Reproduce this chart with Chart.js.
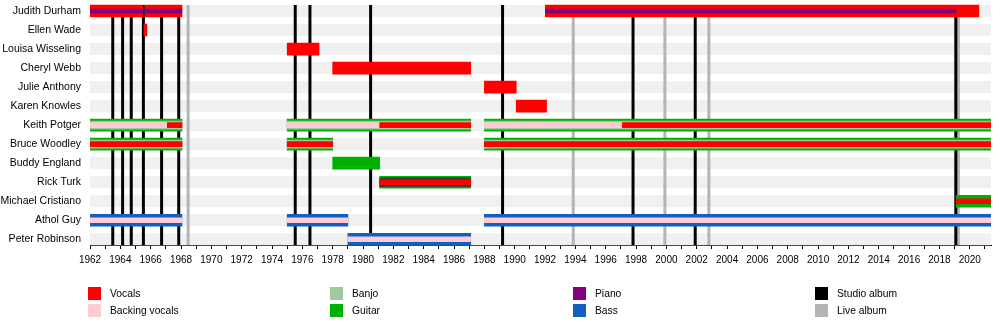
<!DOCTYPE html>
<html>
<head>
<meta charset="utf-8">
<script src="https://cdn.jsdelivr.net/npm/chart.js@4.4.1/dist/chart.umd.min.js"></script>
<style>
  html, body { margin: 0; padding: 0; background: #fff; }
  #wrap { width: 1000px; height: 325px; position: relative; }
</style>
</head>
<body>
<div id="wrap"><canvas id="timeline"></canvas></div>
<script>
const members = [
  'Judith Durham', 'Ellen Wade', 'Louisa Wisseling', 'Cheryl Webb', 'Julie Anthony',
  'Karen Knowles', 'Keith Potger', 'Bruce Woodley', 'Buddy England', 'Rick Turk',
  'Michael Cristiano', 'Athol Guy', 'Peter Robinson'
];
const startYear = 1962;
const endYear = 2021.4;

// [member, from, to]
const vocals = [
  ['Judith Durham', 1962, 1965.47], ['Judith Durham', 1965.63, 1968.06], ['Judith Durham', 1992.02, 2020.6],
  ['Ellen Wade', 1965.55, 1965.75],
  ['Louisa Wisseling', 1975, 1977.1],
  ['Cheryl Webb', 1978, 1987.1],
  ['Julie Anthony', 1988, 1990.1],
  ['Karen Knowles', 1990.1, 1992.1],
  ['Keith Potger', 1967.1, 1968.06], ['Keith Potger', 1981.1, 1987.1], ['Keith Potger', 1997.1, endYear],
  ['Bruce Woodley', 1962, 1968.06], ['Bruce Woodley', 1975, 1978], ['Bruce Woodley', 1988, endYear],
  ['Rick Turk', 1981.1, 1987.1],
  ['Michael Cristiano', 2019.1, endYear]
];
const backingVocals = [
  ['Keith Potger', 1962, 1967.1], ['Keith Potger', 1975, 1981.1], ['Keith Potger', 1988, 1997.1],
  ['Athol Guy', 1962, 1968.06], ['Athol Guy', 1975, 1979], ['Athol Guy', 1988, endYear],
  ['Peter Robinson', 1979, 1987.1]
];
const guitar = [
  ['Keith Potger', 1962, 1968.06], ['Keith Potger', 1975, 1987.1], ['Keith Potger', 1988, endYear],
  ['Bruce Woodley', 1962, 1968.06], ['Bruce Woodley', 1975, 1978], ['Bruce Woodley', 1988, endYear],
  ['Buddy England', 1978, 1981.1],
  ['Rick Turk', 1981.1, 1987.1],
  ['Michael Cristiano', 2019.1, endYear]
];
const banjo = [
  ['Keith Potger', 1962, 1968.06], ['Keith Potger', 1975, 1987.1], ['Keith Potger', 1988, endYear],
  ['Bruce Woodley', 1962, 1968.06], ['Bruce Woodley', 1975, 1978], ['Bruce Woodley', 1988, endYear]
];
const otherInstruments = [
  ['Rick Turk', 1981.1, 1987.1]
];
const piano = [
  ['Judith Durham', 1962, 1965.47], ['Judith Durham', 1965.63, 1968.06], ['Judith Durham', 1992.02, 2019.1]
];
const bass = [
  ['Athol Guy', 1962, 1968.06], ['Athol Guy', 1975, 1979], ['Athol Guy', 1988, endYear],
  ['Peter Robinson', 1979, 1987.1]
];
const studioAlbums = [1963.5, 1964.15, 1964.72, 1965.52, 1966.72, 1967.85, 1975.53, 1976.5, 1980.5, 1989.2, 1997.8, 2001.9, 2019.08];
const liveAlbums = [1968.47, 1993.86, 1999.9, 2002.8, 2019.25];

const colors = {
  vocals: '#ff0000',
  backing: '#ffccd4',
  banjo: '#a0c8a0',
  guitar: '#00b000',
  piano: '#800080',
  bass: '#0f60c0',
  other: '#34402f',
  studio: '#000000',
  live: '#b4b4b4',
  row: '#f0f0f0'
};

const FONT = '"Liberation Sans", Arial, sans-serif';

// members who play guitar or bass get a thin vocal stripe on top of their instrument bar
const players = new Set([...guitar, ...bass].map(s => s[0]));

const toBars = segs => segs.map(([m, a, b]) => ({ x: [a, b], y: members.indexOf(m) }));

function layer(label, segs, color, thickness) {
  return {
    label: label,
    data: toBars(segs),
    backgroundColor: color,
    barThickness: thickness,
    grouped: false,
    borderWidth: 0,
    borderSkipped: false
  };
}

// first dataset is painted on top
const datasets = [
  layer('Piano', piano, colors.piano, 4),
  layer('Vocals', vocals.filter(s => players.has(s[0])), colors.vocals, 5),
  layer('Backing vocals', backingVocals, colors.backing, 5),
  layer('Banjo', banjo, colors.banjo, 8),
  layer('Other', otherInstruments, colors.other, 9),
  layer('Vocals', vocals.filter(s => !players.has(s[0])), colors.vocals, 12),
  layer('Guitar', guitar, colors.guitar, 12),
  layer('Bass', bass, colors.bass, 12)
];

const legendItems = [
  ['Vocals', colors.vocals], ['Backing vocals', colors.backing],
  ['Banjo', colors.banjo], ['Guitar', colors.guitar],
  ['Piano', colors.piano], ['Bass', colors.bass],
  ['Studio album', colors.studio], ['Live album', colors.live]
];

// grey row bands and album lines sit underneath the bars
const backdrop = {
  id: 'backdrop',
  beforeDatasetsDraw(chart) {
    const { ctx, chartArea, scales } = chart;
    const x = scales.x, y = scales.y;
    ctx.save();
    ctx.fillStyle = colors.row;
    members.forEach((m, i) => {
      const py = y.getPixelForValue(i);
      ctx.fillRect(chartArea.left, py - 6, chartArea.right - chartArea.left, 12);
    });
    const top = y.getPixelForValue(0) - 6;
    const drawLines = (years, color) => {
      ctx.strokeStyle = color;
      ctx.lineWidth = 3;
      years.forEach(yr => {
        const px = x.getPixelForValue(yr);
        ctx.beginPath();
        ctx.moveTo(px, top);
        ctx.lineTo(px, chartArea.bottom);
        ctx.stroke();
      });
    };
    drawLines(liveAlbums, colors.live);
    drawLines(studioAlbums, colors.studio);
    ctx.restore();
  },
  afterDraw(chart) {
    const ctx = chart.ctx;
    const cols = [88, 330, 573, 815];
    const rows = [287, 304];
    ctx.save();
    ctx.font = '10.3px ' + FONT;
    ctx.textBaseline = 'middle';
    ctx.textAlign = 'left';
    legendItems.forEach(([text, color], i) => {
      const bx = cols[Math.floor(i / 2)];
      const by = rows[i % 2];
      ctx.fillStyle = color;
      ctx.fillRect(bx, by, 13, 13);
      ctx.fillStyle = '#000';
      ctx.fillText(text, bx + 22, by + 7);
    });
    ctx.restore();
  }
};

new Chart(document.getElementById('timeline'), {
  type: 'bar',
  data: { datasets: datasets },
  options: {
    indexAxis: 'y',
    responsive: true,
    maintainAspectRatio: false,
    animation: false,
    layout: { padding: { top: 1.5, right: 9, left: 0, bottom: 0 } },
    plugins: {
      legend: { display: false },
      tooltip: { enabled: false }
    },
    scales: {
      x: {
        type: 'linear',
        min: startYear,
        max: endYear,
        afterBuildTicks: s => {
          const t = [];
          for (let yr = startYear; yr <= endYear; yr++) t.push({ value: yr });
          s.ticks = t;
        },
        afterFit: s => { s.height = 80; s.paddingLeft = 0; s.paddingRight = 0; },
        ticks: {
          autoSkip: false,
          maxRotation: 0,
          padding: 5,
          color: '#000',
          font: { family: FONT, size: 10 },
          callback: v => (v % 2 === 0 ? String(v) : '')
        },
        grid: { drawOnChartArea: false, tickLength: 4, color: '#000', lineWidth: 1 },
        border: { display: true, color: '#000', width: 1 }
      },
      y: {
        type: 'linear',
        reverse: true,
        offset: false,
        min: -0.5,
        max: 12.3,
        afterBuildTicks: s => { s.ticks = members.map((m, i) => ({ value: i })); },
        afterFit: s => { s.width = 90; s.paddingTop = 0; s.paddingBottom = 0; },
        ticks: {
          autoSkip: false,
          padding: 9,
          color: '#000',
          font: { family: FONT, size: 10.5 },
          callback: v => members[v]
        },
        grid: { display: false, drawTicks: false, tickLength: 0 },
        border: { display: false }
      }
    }
  },
  plugins: [backdrop]
});
</script>
</body>
</html>
